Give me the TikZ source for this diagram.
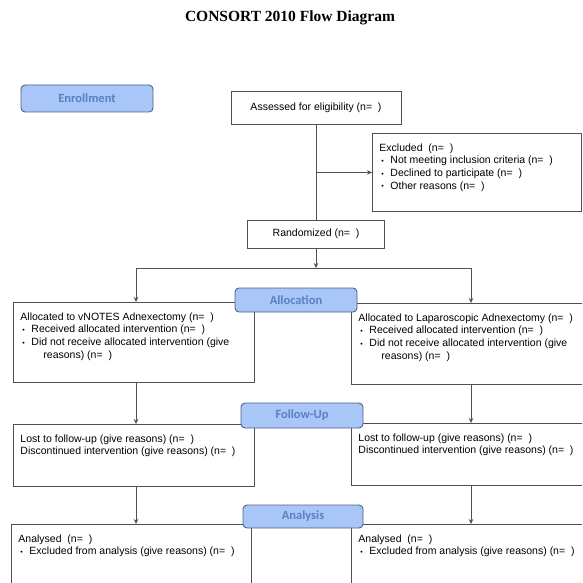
\documentclass[tikz,border=0pt]{standalone}
\usepackage{fontspec}
\setmainfont{Liberation Sans}
\newfontfamily\titlefont{Liberation Serif}
\newfontfamily\phasefont{Carlito}
\usetikzlibrary{arrows.meta}
\definecolor{phasefill}{HTML}{A9C6F8}
\definecolor{phasetext}{HTML}{5B80C0}
\definecolor{phaseline}{HTML}{4E6182}
\definecolor{boxline}{HTML}{505050}
% top aligned text of a box
\newcommand{\cbtext}[3]{\parbox[t][#2][t]{#1}{\raggedright\vspace*{4pt}#3}}
\newcommand{\itm}{\hspace*{2pt}\makebox[9pt][l]{\raisebox{0.6pt}{\scriptsize\textbullet}}}
\begin{document}
\begin{tikzpicture}[x=1pt, y=-1pt,
    box/.style = {draw=boxline, line width=0.9pt, fill=white, anchor=north west,
      inner xsep=7pt, inner ysep=6pt, font=\fontsize{10.5}{12.8}\selectfont},
    phase/.style = {draw=phaseline, line width=0.9pt, rounded corners=4pt,
      fill=phasefill, text=phasetext, inner sep=0pt,
      font=\phasefont\bfseries\fontsize{12.5}{14}\selectfont},
    line/.style = {draw=boxline, line width=0.8pt},
    arr/.style = {line, -{Stealth[length=5pt,width=4.5pt]}}]
  \useasboundingbox (0,0) rectangle (582,583);
  \clip (0,0) rectangle (582,583);

  \node[font=\titlefont\bfseries\fontsize{15.5}{18}\selectfont] (title) at (290,18)
    {CONSORT 2010 Flow Diagram};

  % enrollment
  \node[box, anchor=center, minimum width=170pt, minimum height=33pt] (assess)
    at (316,107.5) {Assessed for eligibility (n=~~)};
  \node[box] (excl) at (372,133) {\cbtext{195pt}{66pt}{%
    Excluded~~(n=~~)\\
    \itm Not meeting inclusion criteria (n=~~)\\
    \itm Declined to participate (n=~~)\\
    \itm Other reasons (n=~~)}};
  \node[box, anchor=center, minimum width=137pt, minimum height=28pt] (rand)
    at (316,234) {Randomized (n=~~)};

  % allocation
  \node[box] (alloc1) at (13,302) {\cbtext{227pt}{68pt}{%
    Allocated to vNOTES Adnexectomy (n=~~)\\
    \itm Received allocated intervention (n=~~)\\
    \itm Did not receive allocated intervention (give\\
    \hspace*{23pt}reasons) (n=~~)}};
  \node[box] (alloc2) at (351,303) {\cbtext{235pt}{69pt}{%
    Allocated to Laparoscopic Adnexectomy (n=~~)\\
    \itm Received allocated intervention (n=~~)\\
    \itm Did not receive allocated intervention (give\\
    \hspace*{23pt}reasons) (n=~~)}};

  % follow-up
  \node[box] (follow1) at (13,424) {\cbtext{227pt}{50pt}{%
    Lost to follow-up (give reasons) (n=~~)\\
    Discontinued intervention (give reasons) (n=~~)}};
  \node[box] (follow2) at (351,423) {\cbtext{235pt}{50pt}{%
    Lost to follow-up (give reasons) (n=~~)\\
    Discontinued intervention (give reasons) (n=~~)}};

  % analysis
  \node[box] (anal1) at (11,524) {\cbtext{226pt}{64pt}{%
    Analysed~~(n=~~)\\
    \itm Excluded from analysis (give reasons) (n=~~)}};
  \node[box] (anal2) at (351,524) {\cbtext{235pt}{64pt}{%
    Analysed~~(n=~~)\\
    \itm Excluded from analysis (give reasons) (n=~~)}};

  % connectors
  \coordinate (split) at (316,268);
  \coordinate (splitL) at (136,268);
  \coordinate (splitR) at (471,268);
  \draw[line] (assess) -- (rand);
  \draw[arr] (assess.south |- excl.west) -- (excl.west);
  \draw[arr] (rand) -- (split);
  \draw[line] (splitL) -- (splitR);
  \draw[arr] (splitL) -- (splitL |- alloc1.north);
  \draw[arr] (splitR) -- (splitR |- alloc2.north);
  \draw[arr] (splitL |- alloc1.south) -- (splitL |- follow1.north);
  \draw[arr] (splitR |- alloc2.south) -- (splitR |- follow2.north);
  \draw[arr] (splitL |- follow1.south) -- (splitL |- anal1.north);
  \draw[arr] (splitR |- follow2.south) -- (splitR |- anal2.north);

  % phase labels
  \node[phase, minimum width=132pt, minimum height=27pt] (enroll) at (87,98.5) {Enrollment};
  \node[phase, minimum width=122pt, minimum height=24pt] (allocation) at (296,300) {Allocation};
  \node[phase, minimum width=122pt, minimum height=25pt] (followup) at (302,415.5) {Follow-Up};
  \node[phase, minimum width=120pt, minimum height=23pt] (analysis) at (303,516.5) {Analysis};
\end{tikzpicture}
\end{document}
